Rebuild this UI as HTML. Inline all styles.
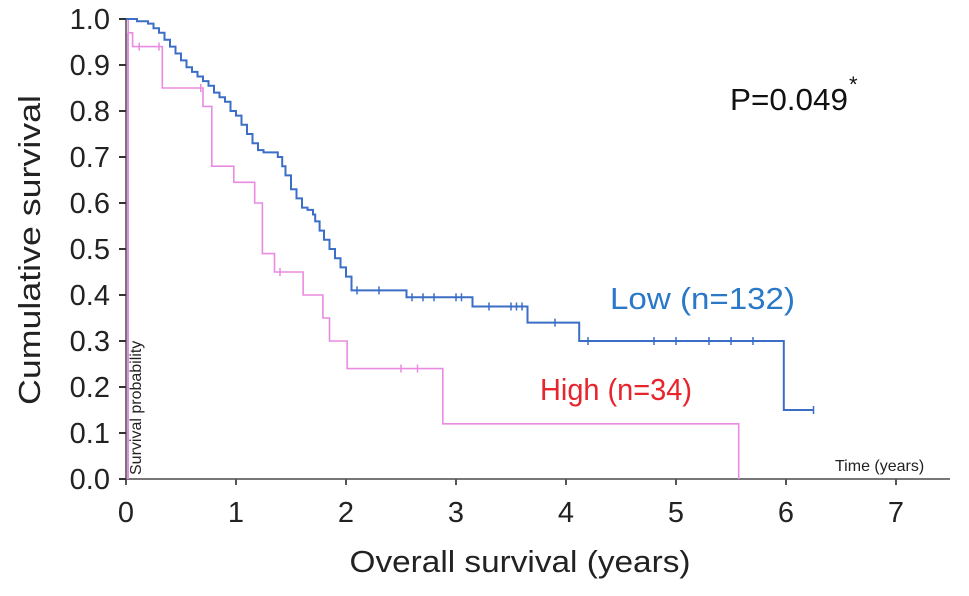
<!DOCTYPE html>
<html><head><meta charset="utf-8"><style>
body{margin:0;background:#fff;width:969px;height:591px;overflow:hidden}
svg{font-family:"Liberation Sans",sans-serif}
</style></head><body>
<svg id="chart" width="969" height="591" xmlns="http://www.w3.org/2000/svg"></svg>
<script>
const xTicks=[0,1,2,3,4,5,6,7];
const yTicks=[0,0.1,0.2,0.3,0.4,0.5,0.6,0.7,0.8,0.9,1.0];
const lowTimes=[0,0.1,0.2,0.25,0.3,0.35,0.4,0.45,0.5,0.55,0.6,0.65,0.7,0.75,0.8,0.85,0.9,0.95,1.0,1.05,1.1,1.15,1.2,1.25,1.38,1.42,1.45,1.5,1.55,1.6,1.65,1.7,1.72,1.76,1.8,1.85,1.9,1.95,2.0,2.05,2.55,3.15,3.65,4.12,5.98,6.25];
const lowSurv=[1.0,0.995,0.99,0.98,0.97,0.955,0.94,0.925,0.91,0.895,0.885,0.875,0.865,0.855,0.84,0.83,0.82,0.8,0.79,0.77,0.75,0.73,0.715,0.71,0.70,0.68,0.66,0.63,0.61,0.59,0.585,0.575,0.56,0.54,0.52,0.50,0.48,0.46,0.44,0.41,0.395,0.375,0.34,0.30,0.15,0.15];
const lowCensor=[2.1,2.3,2.6,2.7,2.8,3.0,3.05,3.3,3.5,3.55,3.6,3.9,4.2,4.8,5.0,5.3,5.5,5.7,6.25];
const highTimes=[0,0.02,0.06,0.33,0.7,0.78,0.98,1.17,1.24,1.35,1.61,1.79,1.85,2.01,2.88,5.57];
const highSurv=[1.0,0.97,0.94,0.85,0.81,0.68,0.645,0.60,0.49,0.45,0.40,0.35,0.30,0.24,0.12,0];
const highCensor=[0.12,0.3,0.68,1.4,2.5,2.65];
const X=v=>126+v*110, Y=v=>479-v*460;
const svg=document.getElementById('chart');const NS='http://www.w3.org/2000/svg';
function mk(t,a,txt){const e=document.createElementNS(NS,t);for(const k in a)e.setAttribute(k,a[k]);if(txt!==undefined)e.textContent=txt;svg.appendChild(e);return e;}
let e;
e=mk('line',{x1:X(0),y1:Y(0),x2:950,y2:Y(0),stroke:'#777','stroke-width':2});


e=mk('line',{x1:X(0),y1:Y(0),x2:X(0),y2:Y(1),stroke:'#777','stroke-width':2});


xTicks.forEach(t=>{mk('line',{x1:X(t),y1:Y(0),x2:X(t),y2:Y(0)+6,stroke:'#555','stroke-width':2});
e=mk('text',{x:X(t),y:522,'font-size':29,'text-anchor':'middle',fill:'#222'},String(t));

});
yTicks.forEach(t=>{mk('line',{x1:X(0)-7,y1:Y(t),x2:X(0),y2:Y(t),stroke:'#333','stroke-width':2});
e=mk('text',{x:110,y:Y(t)+10,'font-size':29,'text-anchor':'end',fill:'#222'},t.toFixed(1));

});
function stepPath(ts,ss){let d='M'+X(ts[0])+','+Y(ss[0]);for(let i=1;i<ts.length;i++){d+=' H'+X(ts[i])+' V'+Y(ss[i]);}return d;}
function survAt(ts,ss,t){let s=ss[0];for(let i=0;i<ts.length;i++){if(ts[i]<=t)s=ss[i];}return s;}
e=mk('line',{x1:X(0)+2,y1:Y(0.97),x2:X(0)+2,y2:Y(0),stroke:'#e98be0','stroke-width':2});


e=mk('path',{d:stepPath(highTimes,highSurv),fill:'none',stroke:'#e98be0','stroke-width':1.6});


highCensor.forEach(t=>{const y=Y(survAt(highTimes,highSurv,t));e=mk('line',{x1:X(t),y1:y-4,x2:X(t),y2:y+4,stroke:'#e98be0','stroke-width':1.5});

});
e=mk('path',{d:stepPath(lowTimes,lowSurv),fill:'none',stroke:'#3b6ec6','stroke-width':2});


lowCensor.forEach(t=>{const y=Y(survAt(lowTimes,lowSurv,t));e=mk('line',{x1:X(t),y1:y-4,x2:X(t),y2:y+4,stroke:'#3b6ec6','stroke-width':1.5});

});
e=mk('text',{x:40,y:250,'font-size':31,'text-anchor':'middle',fill:'#222',textLength:310,lengthAdjust:'spacingAndGlyphs',transform:'rotate(-90 40 250)'},'Cumulative survival');


e=mk('text',{x:520,y:572,'font-size':31,'text-anchor':'middle',fill:'#222',textLength:341,lengthAdjust:'spacingAndGlyphs'},'Overall survival (years)');


e=mk('text',{x:141,y:475,'font-size':16,fill:'#222',transform:'rotate(-90 141 475)'},'Survival probability');


e=mk('text',{x:835,y:471,'font-size':16,fill:'#222'},'Time (years)');


e=mk('text',{x:730,y:110,'font-size':31,fill:'#111',textLength:118,lengthAdjust:'spacingAndGlyphs'},'P=0.049');


e=mk('text',{x:849,y:92,'font-size':22,fill:'#111'},'*');


e=mk('text',{x:610,y:309,'font-size':31,fill:'#2a78c8',textLength:185,lengthAdjust:'spacingAndGlyphs'},'Low (n=132)');


e=mk('text',{x:540,y:400,'font-size':31,fill:'#e8242c',textLength:152,lengthAdjust:'spacingAndGlyphs'},'High (n=34)');


</script>
</body></html>
